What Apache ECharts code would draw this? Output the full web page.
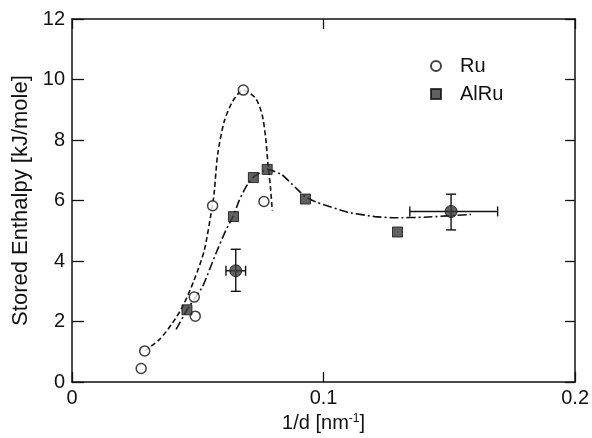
<!DOCTYPE html>
<html>
<head>
<meta charset="utf-8">
<script src="https://cdn.jsdelivr.net/npm/echarts@6/dist/echarts.min.js"></script>
<style>
  html, body { margin: 0; padding: 0; background: #fff; }
  #chart { width: 592px; height: 438px; }
</style>
</head>
<body>
<div id="chart"></div>
<script>
// measured points, Ru samples (open circles)
var ruX = [0.0275, 0.0289, 0.0486, 0.0490, 0.0559, 0.0681, 0.0763];
var ruY = [0.45, 1.03, 2.81, 2.18, 5.83, 9.65, 5.97];

// AlRu samples (hatched squares)
var alruX = [0.0457, 0.0642, 0.0721, 0.0776, 0.0928, 0.1294];
var alruY = [2.39, 5.47, 6.76, 7.03, 6.05, 4.96];

// AlRu samples with error bars
var errX = [0.0651, 0.1507];
var errY = [3.68, 5.64];
var errXLow = [0.0612, 0.1343];
var errXHigh = [0.0690, 0.1692];
var errYLow = [3.00, 5.03];
var errYHigh = [4.39, 6.21];

// guide-to-the-eye curves
var ruFitX = [0.0289, 0.0348, 0.0400, 0.0440, 0.0486, 0.0526, 0.0558, 0.0566, 0.0579, 0.0605, 0.0638, 0.0680, 0.0730, 0.0756, 0.0770, 0.0778, 0.0789, 0.0796];
var ruFitY = [1.03, 1.41, 1.96, 2.50, 3.38, 4.36, 5.83, 6.32, 7.52, 8.61, 9.27, 9.65, 9.38, 8.83, 8.07, 7.30, 6.43, 5.67];

var alFitX = [0.0414, 0.0457, 0.0519, 0.0572, 0.0611, 0.0640, 0.0664, 0.0690, 0.0719, 0.0776, 0.0835, 0.0888, 0.0928, 0.0974, 0.1099, 0.1204, 0.1283, 0.1400, 0.1586];
var alFitY = [1.74, 2.39, 3.16, 4.25, 5.01, 5.47, 5.99, 6.43, 6.76, 7.04, 6.85, 6.43, 6.12, 5.94, 5.61, 5.47, 5.43, 5.45, 5.54];

var xTicks = ['0', '0.1', '0.2'];

var zip = function (a, b) {
    var out = [];
    for (var i = 0; i < a.length; i++) {
        out.push([a[i], b[i]]);
    }
    return out;
};

var errData = [];
for (var i = 0; i < errX.length; i++) {
    errData.push([errX[i], errY[i], errXLow[i], errXHigh[i], errYLow[i], errYHigh[i]]);
}

var font = "'Liberation Sans', Arial, sans-serif";
var cap = 5;

var renderErr = function (params, api) {
    var c = api.coord([api.value(0), api.value(1)]);
    var l = api.coord([api.value(2), api.value(1)]);
    var r = api.coord([api.value(3), api.value(1)]);
    var b = api.coord([api.value(0), api.value(4)]);
    var t = api.coord([api.value(0), api.value(5)]);
    var st = { stroke: '#111', lineWidth: 1.4 };
    var seg = function (x1, y1, x2, y2) {
        return { type: 'line', shape: { x1: x1, y1: y1, x2: x2, y2: y2 }, style: st };
    };
    return {
        type: 'group',
        children: [
            seg(l[0], c[1], r[0], c[1]),
            seg(l[0], c[1] - cap, l[0], c[1] + cap),
            seg(r[0], c[1] - cap, r[0], c[1] + cap),
            seg(c[0], b[1], c[0], t[1]),
            seg(c[0] - cap, b[1], c[0] + cap, b[1]),
            seg(c[0] - cap, t[1], c[0] + cap, t[1])
        ]
    };
};

var chart = echarts.init(document.getElementById('chart'));

var frameLine = { show: true, onZero: false, lineStyle: { color: '#111', width: 1.5 } };
var frameTick = { show: true, inside: true, length: 10, lineStyle: { color: '#111', width: 1.3 } };

var option = {
    backgroundColor: '#fff',
    animation: false,
    grid: { left: 72, right: 15, top: 19, bottom: 52 },
    legend: {
        data: ['Ru', 'AlRu'],
        orient: 'vertical',
        left: 425,
        top: 51,
        itemWidth: 10,
        itemHeight: 10,
        itemGap: 8,
        textStyle: { fontSize: 20, fontFamily: font, color: '#111', lineHeight: 20, padding: [0, 0, 0, 14] }
    },
    xAxis: [
        {
            type: 'value', min: 0, max: 0.2, interval: 0.1,
            name: '1/d [nm{sup|-1}]',
            nameLocation: 'middle',
            nameGap: 26,
            nameTextStyle: {
                fontSize: 20, fontFamily: font, color: '#111',
                rich: { sup: { fontSize: 12, fontFamily: font, color: '#111', verticalAlign: 'top', padding: [0, 0, 8, 0] } }
            },
            axisLine: frameLine,
            axisTick: frameTick,
            axisLabel: {
                fontSize: 20, fontFamily: font, color: '#111', margin: 6,
                formatter: function (v) { return xTicks[Math.round(v * 10)]; }
            },
            splitLine: { show: false }
        },
        {
            type: 'value', position: 'top', min: 0, max: 0.2, interval: 0.1,
            axisLine: frameLine,
            axisTick: frameTick,
            axisLabel: { show: false },
            splitLine: { show: false }
        }
    ],
    yAxis: [
        {
            type: 'value', min: 0, max: 12, interval: 2,
            name: 'Stored Enthalpy [kJ/mole]',
            nameLocation: 'middle',
            nameGap: 32,
            nameTextStyle: { fontSize: 22, fontFamily: font, color: '#111' },
            axisLine: frameLine,
            axisTick: { show: true, inside: true, length: 12, lineStyle: { color: '#111', width: 1.3 } },
            axisLabel: { fontSize: 20, fontFamily: font, color: '#111', margin: 7 },
            splitLine: { show: false }
        },
        {
            type: 'value', position: 'right', min: 0, max: 12, interval: 2,
            axisLine: frameLine,
            axisTick: frameTick,
            axisLabel: { show: false },
            splitLine: { show: false }
        }
    ],
    series: [
        {
            name: 'RuFit',
            type: 'line',
            data: zip(ruFitX, ruFitY),
            smooth: 0.25,
            showSymbol: false,
            silent: true,
            lineStyle: { color: '#111', width: 1.6, type: [5, 3] },
            z: 1
        },
        {
            name: 'AlRuFit',
            type: 'line',
            data: zip(alFitX, alFitY),
            smooth: 0.15,
            showSymbol: false,
            silent: true,
            lineStyle: { color: '#111', width: 1.6, type: [9, 3, 2, 3] },
            z: 1
        },
        {
            name: 'AlRuErr',
            type: 'custom',
            renderItem: renderErr,
            data: errData,
            encode: { x: 0, y: 1 },
            silent: true,
            z: 2
        },
        {
            name: 'Ru',
            type: 'scatter',
            data: zip(ruX, ruY),
            symbol: 'circle',
            symbolSize: 10,
            itemStyle: { color: '#fff', borderColor: '#111', borderWidth: 1.5 },
            z: 3
        },
        {
            name: 'AlRu',
            type: 'scatter',
            data: zip(alruX, alruY),
            symbol: 'rect',
            symbolSize: 10,
            itemStyle: { color: '#3a3a3a', borderColor: '#111', borderWidth: 1 },
            z: 3
        },
        {
            name: 'AlRu',
            type: 'scatter',
            data: zip(errX, errY),
            symbol: 'circle',
            symbolSize: 12,
            itemStyle: { color: '#3a3a3a', borderColor: '#111', borderWidth: 1 },
            z: 3
        }
    ]
};

chart.setOption(option);
window.onresize = chart.resize;
</script>
</body>
</html>
